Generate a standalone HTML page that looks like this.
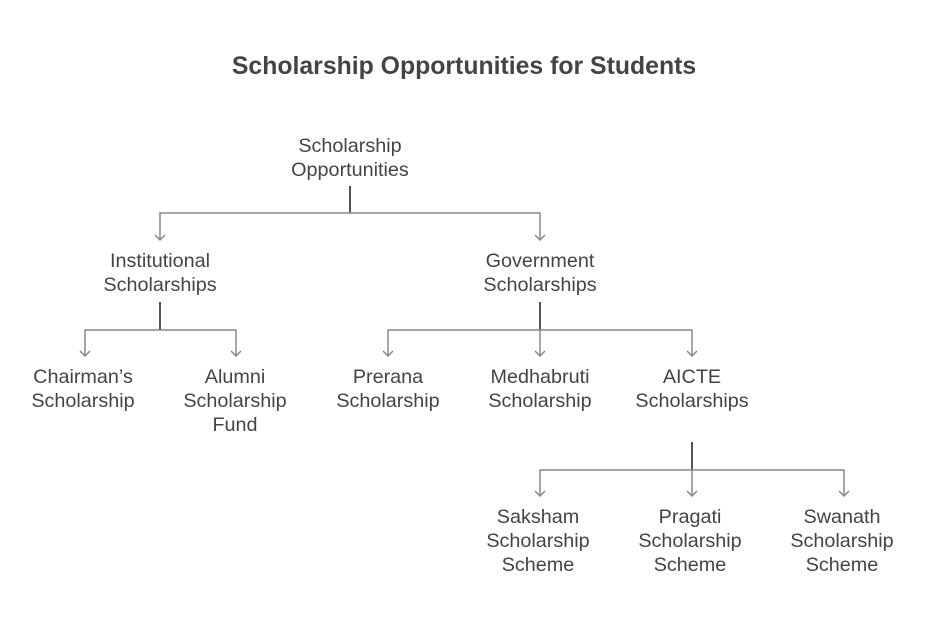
<!DOCTYPE html>
<html><head><meta charset="utf-8"><style>
html,body{margin:0;padding:0;background:#fff;}
svg{display:block;}
text{font-family:"Liberation Sans",Arial,sans-serif;fill:#444;font-size:19.8px;text-anchor:middle;}
.t{font-size:24.8px;font-weight:bold;}
.s{stroke:#555;stroke-width:2;fill:none;}
.l{stroke:#888;stroke-width:1.5;fill:none;}
</style></head><body>
<svg width="928" height="624" viewBox="0 0 928 624">
<rect width="928" height="624" fill="#fff"/>
<text class="t" x="464" y="74">Scholarship Opportunities for Students</text>

<text x="350" y="152">Scholarship</text><text x="350" y="176">Opportunities</text>
<text x="160" y="267">Institutional</text><text x="160" y="291">Scholarships</text>
<text x="540" y="267">Government</text><text x="540" y="291">Scholarships</text>
<text x="83" y="383">Chairman’s</text><text x="83" y="407">Scholarship</text>
<text x="235" y="383">Alumni</text><text x="235" y="407">Scholarship</text><text x="235" y="431">Fund</text>
<text x="388" y="383">Prerana</text><text x="388" y="407">Scholarship</text>
<text x="540" y="383">Medhabruti</text><text x="540" y="407">Scholarship</text>
<text x="692" y="383">AICTE</text><text x="692" y="407">Scholarships</text>
<text x="538" y="523">Saksham</text><text x="538" y="547">Scholarship</text><text x="538" y="571">Scheme</text>
<text x="690" y="523">Pragati</text><text x="690" y="547">Scholarship</text><text x="690" y="571">Scheme</text>
<text x="842" y="523">Swanath</text><text x="842" y="547">Scholarship</text><text x="842" y="571">Scheme</text>

<path class="s" d="M350 186V213"/>
<path class="l" d="M160 240V213H540V240"/>
<path class="l" d="M155 235L160 240L165 235M535 235L540 240L545 235"/>
<path class="s" d="M160 302V330"/>
<path class="l" d="M85 356V330H236V356"/>
<path class="l" d="M80 351L85 356L90 351M231 351L236 356L241 351"/>
<path class="s" d="M540 302V330"/>
<path class="l" d="M388 356V330H692V356M540 330V356"/>
<path class="l" d="M383 351L388 356L393 351M535 351L540 356L545 351M687 351L692 356L697 351"/>
<path class="s" d="M692 442V470"/>
<path class="l" d="M540 496V470H844V496M692 470V496"/>
<path class="l" d="M535 491L540 496L545 491M687 491L692 496L697 491M839 491L844 496L849 491"/>
</svg>
</body></html>
